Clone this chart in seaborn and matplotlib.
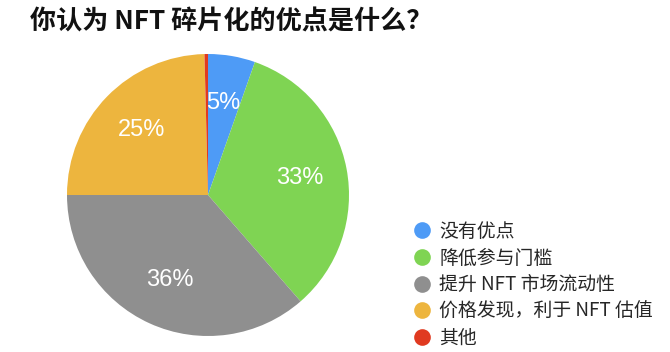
import matplotlib
matplotlib.use("Agg")
import matplotlib.pyplot as plt
from matplotlib.lines import Line2D
import seaborn as sns

title = "你认为 NFT 碎片化的优点是什么？"
categories = ["没有优点", "降低参与门槛", "提升 NFT 市场流动性", "价格发现，利于 NFT 估值", "其他"]
values = [5.4, 33.2, 36.4, 24.6, 0.4]
pct_labels = ["5%", "33%", "36%", "25%", ""]
hex_colors = ["#4E9BF6", "#7FD453", "#8F8F8F", "#EDB53E", "#E03A20"]

sns.set_theme(style="white")
plt.rcParams['font.family'] = ['Noto Sans CJK SC', 'DejaVu Sans']
palette = sns.color_palette(hex_colors)

fig = plt.figure(figsize=(6.7, 3.52), dpi=100)
ax = fig.add_axes([67 / 670, 16 / 352, 282 / 670, 282 / 352])

wedges, texts = ax.pie(values, colors=palette, startangle=90, counterclock=False,
                       labels=pct_labels, labeldistance=0.66,
                       wedgeprops=dict(linewidth=0),
                       textprops=dict(color="white", fontsize=17,
                                      family=['Liberation Sans', 'DejaVu Sans']))
for t in texts:
    t.set_ha("center")
    t.set_va("center")
ax.set_xlim(-1, 1)
ax.set_ylim(-1, 1)
ax.set_aspect("equal")
ax.axis("off")

fig.text(30 / 670, 1 - 22 / 352, title, fontsize=18.8, fontweight="bold",
         ha="left", va="center", color="#111111")

handles = [Line2D([0], [0], marker="o", linestyle="none", markersize=12,
                  markerfacecolor=c, markeredgewidth=0) for c in palette]
fig.legend(handles, categories, loc="upper left",
           bbox_to_anchor=(411 / 670, 1 - 221 / 352), frameon=False,
           fontsize=13.6, handletextpad=0.3, labelspacing=0.3, borderpad=0,
           handlelength=1.2, borderaxespad=0)

fig.savefig("out.png", dpi=100, facecolor="white")
